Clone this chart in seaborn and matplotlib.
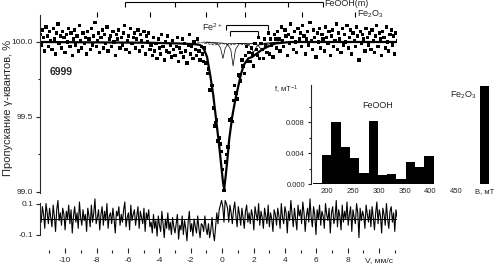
import numpy as np
import pandas as pd
import seaborn as sns
import matplotlib.pyplot as plt

# Mossbauer spectrum of sample 6999, velocity scale in mm/s
v_min, v_max = -11.6, 11.15
n_chan = 300

# transmission minus 100 %, in units of 0.01 %, channel by channel
trans_dev = [
    5, -2, 8, 3, -6, 10, 4, -3, 7, 1, -5, 9, 2, -8, 6, 12, -1, 4, -4, 7,
    3, -7, 5, 0, 9, -3, 6, -9, 2, 8, -2, 4, -6, 11, 1, -4, 6, -1, 3, -8,
    7, 2, -5, 9, -2, 4, 13, -3, 1, 6, -7, 3, 8, -4, 5, -1, 10, -6, 2, 4,
    -3, 7, 0, -9, 5, 2, 8, -4, 3, -2, 6, 11, -5, 1, 4, -7, 9, -1, 3, 6,
    -4, 2, 8, -6, 5, 1, -3, 7, -8, 4, 0, 6, -5,
    -2, -9, 3, -6, -1, -11, 2, -4, -8, 5, -3, -12, 0, -6, 4, -7, -2, -10, 1, -5,
    -9, -3, 3, -13, -4, -7, 2, -10, -1, -6, -14, -2, 5, -8, -3, -11, 0, -5, -9, 2, -6, -12, -3,
    -8, -13, -4, -14, -21, -18, -32, -32, -29, -44, -56, -54, -52, -66, -64, -68, -73, -85, -99, -80,
    -75, -70, -70, -52, -51, -53, -39, -29, -34, -38, -22, -23, -26, -12, -16, -21, -9, -3, -13, -7,
    -13, -4, -8, -16, -1, -5, -9, 3, -11, -1, -5, -11, 2, -2, -7, 6, -8, 2, -2, -10, 5, 2,
    -4, 7, 2, -6, 10, 1, -3, 8, 4, -9, 5, -1, 12, 3, -5, 7, 0, -7, 9, 2,
    6, -3, 11, 4, -8, 2, 7, -2, 13, 1, -5, 8, 3, -10, 6, 0, 9, -4, 5, 2,
    -6, 10, 3, -1, 7, -9, 4, 8, -3, 1, 12, -5, 6, 2, -7, 9, -2, 5, 0, 11,
    -4, 3, 8, -8, 6, 1, -3, 10, 4, -12, 7, -1, 5, 2, -6, 9, 3, -2, 6, -5,
    8, 1, -7, 4, 11, -3, 6, 2, -9, 7, 3, -4, 10, 0, -6, 5, 8, -2, 4, -8, 6, 1,
]

# residuals (data - fit), units of 0.01 %
resid = [
    5, -2, 8, 3, -6, 10, 4, -3, 7, 1, -5, 9, 2, -8, 6, 12, -1, 4, -4, 7,
    3, -7, 5, 0, 9, -3, 6, -9, 2, 8, -2, 4, -6, 11, 1, -4, 6, -1, 3, -8,
    7, 2, -5, 9, -2, 4, 13, -3, 1, 6, -7, 3, 8, -4, 5, -1, 10, -6, 2, 4,
    -3, 7, 0, -9, 5, 2, 8, -4, 3, -2, 6, 11, -5, 1, 4, -7, 9, -1, 3, 6,
    -4, 2, 8, -6, 5, 1, -3, 7, -8, 4, 0, 6, -5,
    -2, -9, 3, -6, -1, -11, 2, -4, -8, 5, -3, -12, 0, -6, 4, -7, -2, -10, 1, -5,
    -9, -3, 3, -13, -4, -7, 2, -10, -1, -6, -14, -2, 5, -8, -3, -11, 0, -5, -9, 2, -6, -12, -3,
    -4, -8, 2, -6, -10, -3, -12, -7, 1, -9, -14, -5, 4, -3, 6, 9, 12, 8, -2, 12,
    10, 7, -2, 9, 4, -3, 6, 11, 2, -5, 8, 3, -4, 7, 1, -6, 5, 9, -2, 4,
    -3, 6, 2, -7, 8, 3, -1, 10, -4, 5, 1, -6, 7, 2, -3, 9, -5, 4, 0, -8, 6, 3,
    -4, 7, 2, -6, 10, 1, -3, 8, 4, -9, 5, -1, 12, 3, -5, 7, 0, -7, 9, 2,
    6, -3, 11, 4, -8, 2, 7, -2, 13, 1, -5, 8, 3, -10, 6, 0, 9, -4, 5, 2,
    -6, 10, 3, -1, 7, -9, 4, 8, -3, 1, 12, -5, 6, 2, -7, 9, -2, 5, 0, 11,
    -4, 3, 8, -8, 6, 1, -3, 10, 4, -12, 7, -1, 5, 2, -6, 9, 3, -2, 6, -5,
    8, 1, -7, 4, 11, -3, 6, 2, -9, 7, 3, -4, 10, 0, -6, 5, 8, -2, 4, -8, 6, 1,
]

fit_v = [-11.6, -4.6, -2.7, -1.7, -1.4, -1.15, -0.96, -0.76, -0.57, -0.38, -0.19, -0.06, 0.06,
         0.13, 0.22, 0.32, 0.45, 0.64, 0.83, 1.02, 1.21, 1.4, 1.66, 1.91, 2.17, 2.55, 2.93, 3.38,
         4.33, 11.15]
fit_dev = [0, -0.5, -1, -1.5, -2, -5, -10, -22, -35, -52, -69, -82, -94,
           -98, -90, -80, -65, -50, -39, -30, -21, -15, -11, -10, -8, -5, -3, -1,
           0, 0]

# Fe2+ doublets and broad component (thin lines)
fe2a_v = [-1.2, -0.3, -0.1, 0.05, 0.2, 0.4, 1.5, 1.8, 2.0, 2.2, 2.5, 3.6]
fe2a_dev = [0, -1, -4, -11, -4, -1, -1, -3, -7, -3, -1, 0]
fe2b_v = [-1.0, 0.3, 0.55, 0.7, 0.85, 1.1, 2.1, 2.35, 2.55, 2.75, 3.0, 3.8]
fe2b_dev = [0, -1, -5, -16, -5, -1, -1, -3, -6, -3, -1, 0]
broad_v = [-1.6, -1.0, -0.5, 0.0, 0.5, 1.0, 1.5, 2.0, 2.5, 3.0, 3.6]
broad_dev = [0, -1, -2, -1, -2, -1, -2, -1, -2, -1, 0]

# stick diagrams
feooh_lines = [-6.18, -2.99, -0.32, 1.46, 4.2, 6.43]
fe2o3_lines = [-7.96, -4.59, -1.02, 1.46, 5.1, 8.47]
fe2_outer = [0.25, 2.93]
fe2_inner = [0.51, 2.29]

# hyperfine field distribution, B in mT
b_field = [181, 199, 217, 235, 253, 271, 289, 307, 325, 343, 361, 379, 397, 505]
b_prob = [0.0002, 0.0038, 0.0080, 0.0048, 0.0034, 0.0014, 0.0082, 0.0012, 0.0013,
          0.0007, 0.0028, 0.0022, 0.0036, 0.0127]

x_major = [-10, -8, -6, -4, -2, 0, 2, 4, 6, 8, 10]
x_labels = ['-10', '-8', '-6', '-4', '-2', '0', '2', '4', '6', '8', 'V, мм/с']

sns.set_style("ticks")
plt.rcParams['font.family'] = ['Liberation Sans', 'DejaVu Sans']
plt.rcParams['axes.unicode_minus'] = False
plt.rcParams['mathtext.fontset'] = 'custom'
plt.rcParams['mathtext.rm'] = 'Liberation Sans'
plt.rcParams['mathtext.it'] = 'Liberation Sans:italic'

df = pd.DataFrame({'v': np.linspace(v_min, v_max, n_chan),
                   'T': 100 + np.array(trans_dev) / 100,
                   'r': np.array(resid) / 100})

fig = plt.figure(figsize=(4.94, 2.68), dpi=100)
ax = fig.add_axes([0.081, 0.280, 0.723, 0.664])
ax_res = fig.add_axes([0.081, 0.056, 0.723, 0.205])
ax_b = fig.add_axes([0.630, 0.313, 0.370, 0.369])

# spectrum
sns.scatterplot(data=df, x='v', y='T', ax=ax, marker='s', s=5.5, color='black',
                edgecolor='none', linewidth=0)
for cv, cd, ls in [(fe2a_v, fe2a_dev, '-'), (fe2b_v, fe2b_dev, '-'), (broad_v, broad_dev, '--')]:
    sns.lineplot(x=cv, y=100 + np.array(cd) / 100, ax=ax, color='black', lw=0.5,
                 linestyle=ls, estimator=None, sort=False)
sns.lineplot(x=fit_v, y=100 + np.array(fit_dev) / 100, ax=ax, color='black', lw=1.6,
             estimator=None, sort=False)

ax.set_xlim(v_min, v_max)
ax.set_ylim(98.993, 100.18)
for s in ['top', 'right', 'bottom']:
    ax.spines[s].set_visible(False)
ax.spines['left'].set_linewidth(0.8)
ax.tick_params(bottom=False, labelbottom=False)
ax.set_yticks([99.0, 99.5, 100.0])
ax.set_yticklabels(['99.0', '99.5', '100.0'])
ax.set_yticks([99.25, 99.75], minor=True)
ax.tick_params(axis='y', which='major', length=3, width=0.8, labelsize=6, pad=2)
ax.tick_params(axis='y', which='minor', length=1.5, width=0.8)
ax.set_xlabel('')
ax.set_ylabel('Пропускание γ-квантов, %', fontsize=8)
ax.yaxis.set_label_coords(-0.076, 0.48)
ax.text(-10.96, 99.8, '6999', fontsize=7.5, weight='bold', va='center')

# stick diagrams above the spectrum
ax.hlines(100.267, min(feooh_lines), max(feooh_lines), color='black', lw=0.8, clip_on=False)
ax.vlines(feooh_lines, 100.233, 100.267, color='black', lw=0.8, clip_on=False)
ax.text(max(feooh_lines) + 0.1, 100.255, 'FeOOH(m)', fontsize=6.5, va='center')
ax.vlines(fe2o3_lines, 100.167, 100.2, color='black', lw=0.8, clip_on=False)
ax.text(max(fe2o3_lines) + 0.15, 100.187, 'Fe$_2$O$_3$', fontsize=6.5, va='center')
ax.hlines(100.113, fe2_outer[0], fe2_outer[1], color='black', lw=0.8)
ax.vlines(fe2_outer, 100.08, 100.113, color='black', lw=0.8)
ax.hlines(100.073, fe2_inner[0], fe2_inner[1], color='black', lw=0.8)
ax.vlines(fe2_inner, 100.04, 100.073, color='black', lw=0.8)
ax.text(0.0, 100.1, 'Fe$^{2+}$', fontsize=6.5, ha='right', va='center')

# residuals
sns.lineplot(data=df, x='v', y='r', ax=ax_res, color='black', lw=0.8, estimator=None)
ax_res.axhline(0, color='black', lw=0.7)
ax_res.set_xlim(v_min, v_max)
ax_res.set_ylim(-0.219, 0.1355)
for s in ['top', 'right', 'bottom']:
    ax_res.spines[s].set_visible(False)
ax_res.spines['left'].set_bounds(-0.105, 0.105)
ax_res.spines['left'].set_linewidth(0.8)
ax_res.set_yticks([-0.1, 0.1])
ax_res.set_yticklabels(['-0.1', '0.1'])
ax_res.set_xticks(x_major)
ax_res.set_xticklabels(x_labels)
ax_res.set_xticks(np.arange(-11, 12, 2), minor=True)
ax_res.tick_params(axis='y', length=3, width=0.8, labelsize=6, pad=2)
ax_res.tick_params(axis='x', which='major', direction='in', length=3.5, width=0.8,
                   labelsize=6, pad=3)
ax_res.tick_params(axis='x', which='minor', direction='in', length=2, width=0.8)
ax_res.set_xlabel('')
ax_res.set_ylabel('')

# field distribution inset
sns.barplot(x=b_field, y=b_prob, ax=ax_b, native_scale=True, width=1, color='black',
            saturation=1, errorbar=None, linewidth=0)
ax_b.set_facecolor('white')
ax_b.set_xlim(169, 523)
ax_b.set_ylim(0, 0.0128)
for s in ['top', 'right', 'bottom']:
    ax_b.spines[s].set_visible(False)
ax_b.spines['left'].set_linewidth(0.8)
ax_b.set_yticks([0, 0.004, 0.008])
ax_b.set_yticklabels(['0.000', '0.004', '0.008'])
ax_b.set_yticks([0.002, 0.006, 0.010], minor=True)
ax_b.set_xticks([200, 250, 300, 350, 400, 450, 505])
ax_b.set_xticklabels(['200', '250', '300', '350', '400', '450', 'B, мТ'])
ax_b.tick_params(axis='x', length=0, labelsize=5.5, pad=3)
ax_b.tick_params(axis='y', which='major', length=2.5, width=0.8, labelsize=5.5, pad=2)
ax_b.tick_params(axis='y', which='minor', length=1.5, width=0.8)
ax_b.set_xlabel('')
ax_b.set_ylabel('')
ax_b.text(-0.07, 0.95, 'f, мТ$^{-1}$', transform=ax_b.transAxes, fontsize=5.5,
          ha='right', va='center')
ax_b.text(297, 0.0102, 'FeOOH', fontsize=6.5, ha='center', va='center')
ax_b.text(463, 0.0115, 'Fe$_2$O$_3$', fontsize=6.5, ha='center', va='center')

fig.savefig('out.png', dpi=100)
